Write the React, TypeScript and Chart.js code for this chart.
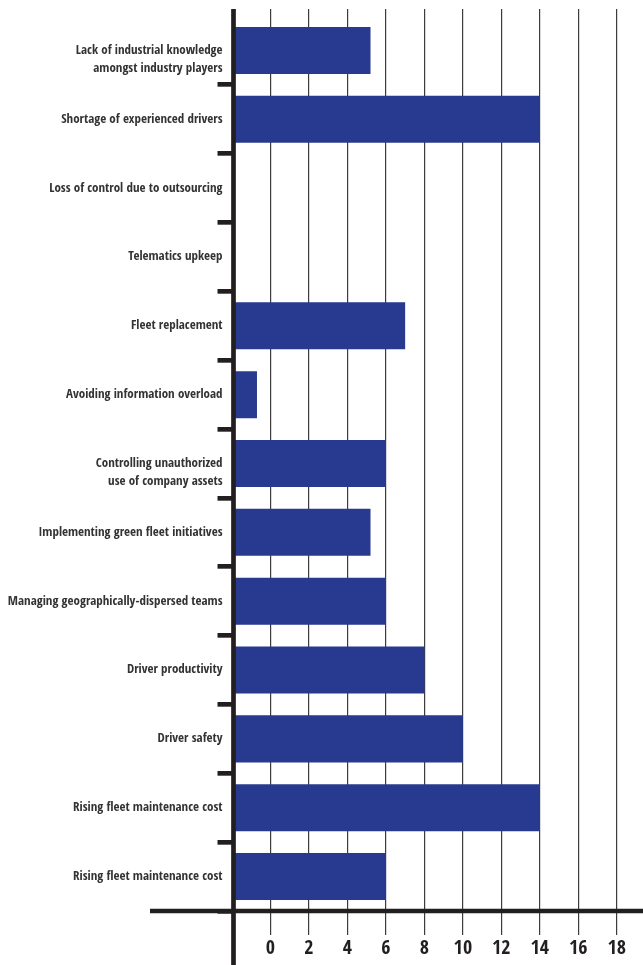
import React, { useEffect, useRef } from "react";
import { Chart, registerables } from "chart.js";

Chart.register(...registerables);

// ---- data ----
const categories: (string | string[])[] = [
  ["", "Lack of industrial knowledge", "amongst industry players"],
  "Shortage of experienced drivers",
  "Loss of control due to outsourcing",
  "Telematics upkeep",
  "Fleet replacement",
  "Avoiding information overload",
  ["", "Controlling unauthorized", "use of company assets"],
  "Implementing green fleet initiatives",
  "Managing geographically-dispersed teams",
  "Driver productivity",
  "Driver safety",
  "Rising fleet maintenance cost",
  "Rising fleet maintenance cost",
];
const values: (number | null)[] = [5.2, 14, null, null, 7, -0.7, 6, 5.2, 6, 8, 10, 14, 6];
const xTickValues: number[] = [0, 2, 4, 6, 8, 10, 12, 14, 16, 18];

// ---- styling ----
const X_MIN = -1.92;
const X_MAX = 19.36;
const BAR = "#283a8f";
const AXIS = "#231f20";
const GRID = "#3c3c3c";
const FONT = "'Open Sans Condensed', 'Roboto Condensed', sans-serif";

const axisLines = {
  id: "axisLines",
  afterDraw(chart: any) {
    const { ctx, chartArea } = chart;
    const top = chart.scales.x2.top;
    ctx.save();
    ctx.strokeStyle = AXIS;
    ctx.lineWidth = 4.7;
    ctx.lineCap = "butt";
    ctx.beginPath();
    ctx.moveTo(chartArea.left, top);
    ctx.lineTo(chartArea.left, chart.height);
    ctx.moveTo(150, chartArea.bottom);
    ctx.lineTo(chart.width, chartArea.bottom);
    ctx.stroke();
    ctx.restore();
  },
};

export default function App() {
  const ref = useRef<HTMLCanvasElement | null>(null);

  useEffect(() => {
    if (!ref.current) return;
    const setTicks = (s: any) => {
      s.ticks = xTickValues.map((v) => ({ value: v }));
    };
    const chart = new Chart(ref.current, {
      type: "bar",
      data: {
        labels: categories as any,
        datasets: [
          {
            data: values as any,
            backgroundColor: BAR,
            borderWidth: 0,
            base: X_MIN,
            barPercentage: 0.683,
            categoryPercentage: 1,
          } as any,
        ],
      },
      options: {
        indexAxis: "y",
        animation: false,
        responsive: false,
        devicePixelRatio: 1,
        layout: { padding: { top: 9, left: 0, right: 0, bottom: 0 } },
        plugins: {
          legend: { display: false },
          tooltip: { enabled: false },
        },
        scales: {
          x: {
            type: "linear",
            position: "bottom",
            min: X_MIN,
            max: X_MAX,
            afterBuildTicks: setTicks,
            afterFit: (s: any) => {
              s.height = 54;
            },
            grid: {
              color: GRID,
              lineWidth: 1.2,
              tickLength: 24,
              drawOnChartArea: true,
              drawTicks: true,
            },
            border: { display: false },
            ticks: {
              font: { family: FONT, size: 20, weight: "bold", lineHeight: 1.2 },
              color: AXIS,
              padding: 2,
              maxRotation: 0,
              autoSkip: false,
            },
          },
          x2: {
            type: "linear",
            position: "top",
            min: X_MIN,
            max: X_MAX,
            afterBuildTicks: setTicks,
            afterFit: (s: any) => {
              s.height = 7;
            },
            grid: {
              color: GRID,
              lineWidth: 1.2,
              tickLength: 7,
              drawOnChartArea: false,
              drawTicks: true,
            },
            border: { display: false },
            ticks: { display: false },
          },
          y: {
            type: "category",
            position: "left",
            afterFit: (s: any) => {
              s.width = 233.5;
            },
            grid: {
              offset: true,
              drawOnChartArea: false,
              drawTicks: true,
              tickLength: 16,
              lineWidth: 4.7,
              color: (c: any) => (c.index === 0 ? "rgba(0,0,0,0)" : AXIS),
            },
            border: { display: false },
            ticks: {
              font: { family: FONT, size: 13, weight: "bold", lineHeight: 1.4 },
              color: "#333333",
              padding: -5,
              autoSkip: false,
              crossAlign: "near",
            },
          },
        } as any,
      },
      plugins: [axisLines],
    });
    return () => chart.destroy();
  }, []);

  return (
    <div style={{ position: "fixed", left: 0, top: 0, width: 643, height: 965, background: "#fff" }}>
      <canvas ref={ref} width={643} height={965} style={{ width: 643, height: 965, display: "block" }} />
    </div>
  );
}
